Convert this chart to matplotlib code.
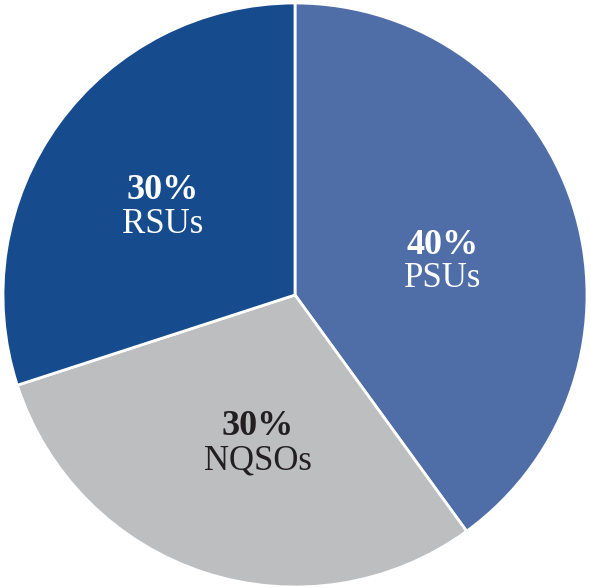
import matplotlib.pyplot as plt

# 데이터
labels = ['PSUs', 'NQSOs', 'RSUs']
shares = [40, 30, 30]
colors = ['#4F6EA8', '#BDBEC0', '#164C8E']
text_colors = ['white', '#231F20', 'white']

# 라벨 위치 (중심 기준, 반지름=1)
label_pos = [(0.507, 0.113), (-0.127, -0.51), (-0.452, 0.30)]

W, H = 591, 588
cx, cy, R = 295, 295, 292

fig = plt.figure(figsize=(W / 100, H / 100), dpi=100)
ax = fig.add_axes([0, 0, 1, 1])
ax.pie(shares, colors=colors, startangle=90, counterclock=False,
       wedgeprops=dict(edgecolor='white', linewidth=2))
ax.set_aspect('auto')
ax.set_xlim(-cx / R, (W - cx) / R)
ax.set_ylim(-(H - cy) / R, cy / R)
ax.axis('off')

for (x, y), lab, s, tc in zip(label_pos, labels, shares, text_colors):
    ax.text(x, y + 0.058, '%d%%' % s, ha='center', va='center', color=tc,
            fontsize=26, fontweight='bold', family='Liberation Serif')
    ax.text(x, y - 0.058, lab, ha='center', va='center', color=tc,
            fontsize=25, family='Liberation Serif')

plt.savefig('out.png', dpi=100)
